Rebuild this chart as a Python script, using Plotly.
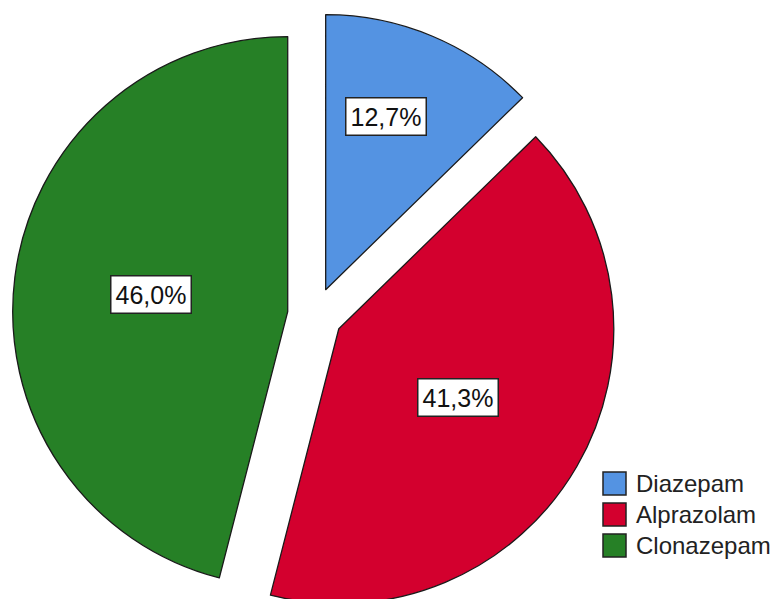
import math

import plotly.graph_objects as go

drugs = ["Diazepam", "Alprazolam", "Clonazepam"]
shares = [12.7, 41.3, 46.0]
colors = ["#5493E2", "#D3002E", "#268026"]

# page body adds an 8px margin, so everything is placed 8px up/left
W, H = 773, 614
CX, CY = 307, 307      # pie centre, px from top-left of the figure
RADIUS = 275
PULL = 0.1
FONT = "Liberation Sans, Arial, sans-serif"

half = RADIUS * (1 + PULL)

fig = go.Figure()

fig.add_trace(go.Pie(
    labels=drugs,
    values=shares,
    sort=False,
    direction="clockwise",
    rotation=0,
    pull=[PULL] * len(shares),
    marker=dict(colors=colors, line=dict(color="#1a1a1a", width=1.3)),
    textinfo="none",
    hoverinfo="label+percent",
    showlegend=False,
    domain=dict(x=[(CX - half) / W, (CX + half) / W], y=[0, 1]),
))

# percentage labels in white boxes, placed along each slice bisector
total = sum(shares)
start = 0.0
annotations = []
for name, v in zip(drugs, shares):
    frac = v / total
    mid = math.radians((start + frac / 2) * 360)
    start += frac
    k = 0.66 if frac < 0.25 else 0.5
    dist = PULL * RADIUS + k * RADIUS
    px = CX + dist * math.sin(mid)
    py = CY - dist * math.cos(mid)
    if frac < 0.25:
        px -= 10
        py -= 6
    annotations.append(dict(
        x=px / W, y=1 - py / H, xref="paper", yref="paper",
        xanchor="center", yanchor="middle",
        text=f"{v:.1f}%".replace(".", ","),
        showarrow=False,
        font=dict(family=FONT, size=25, color="#111"),
        bgcolor="white", bordercolor="#222", borderwidth=1.5, borderpad=4,
    ))

# legend drawn as boxes + labels
shapes = []
for i, (name, c) in enumerate(zip(drugs, colors)):
    top = 464 + i * 31
    shapes.append(dict(
        type="rect", xref="paper", yref="paper",
        x0=595 / W, x1=618 / W, y0=1 - (top + 23) / H, y1=1 - top / H,
        fillcolor=c, line=dict(color="#222", width=1.5),
    ))
    annotations.append(dict(
        x=626 / W, y=1 - (top + 11.5) / H, xref="paper", yref="paper",
        xanchor="left", yanchor="middle", text=name, showarrow=False,
        font=dict(family=FONT, size=24, color="#222"),
    ))

fig.update_layout(
    width=W,
    height=H,
    margin=dict(l=0, r=0, t=0, b=0),
    paper_bgcolor="white",
    plot_bgcolor="white",
    annotations=annotations,
    shapes=shapes,
)

fig.write_html("out.html")
